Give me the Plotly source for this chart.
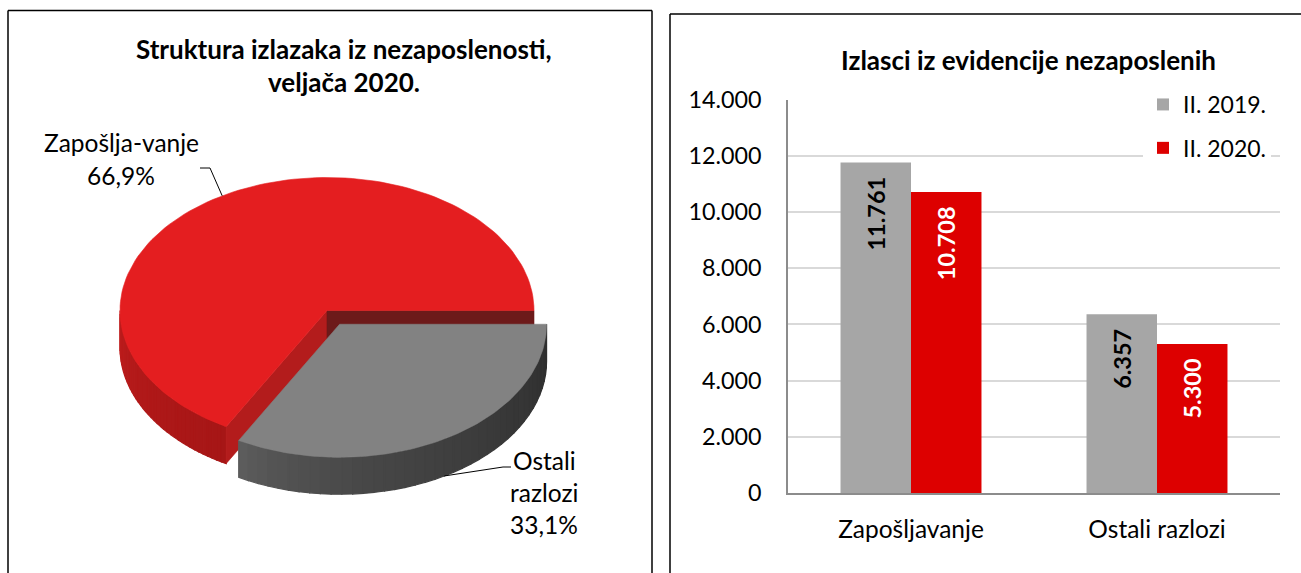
import numpy as np
import plotly.graph_objects as go

# ---------------- data ----------------
pie_labels = ["Zapošlja-vanje", "Ostali razlozi"]
pie_shares = [66.9, 33.1]
pie_title = ["Struktura izlazaka iz nezaposlenosti,", "veljača 2020."]

bar_categories = ["Zapošljavanje", "Ostali razlozi"]
bar_series = ["II. 2019.", "II. 2020."]
values_2019 = [11761, 6357]
values_2020 = [10708, 5300]
bar_title = "Izlasci iz evidencije nezaposlenih"
y_ticks = [0, 2000, 4000, 6000, 8000, 10000, 12000, 14000]

# ---------------- style ----------------
W, H = 1301, 573
FONT = "Lato"
BAR_COLORS = ["#A6A6A6", "#DD0000"]
BAR_TEXT_COLORS = ["#000000", "#FFFFFF"]

# 3D pie geometry (pixel space of the left panel)
CX, CY, RX, RY, DEPTH = 327.0, 310.5, 207.0, 133.0, 37.0
EXPLODE = [0.0, 0.12]
TOP_COLORS = ["#E41E20", "#828282"]
CUT_COLORS = ["#B31C1C", "#6D1A1A"]

fig = go.Figure()

# ---------------- bar chart ----------------
for name, vals, col, tcol in zip(bar_series, [values_2019, values_2020], BAR_COLORS, BAR_TEXT_COLORS):
    fig.add_trace(go.Bar(
        x=bar_categories, y=vals, name=name, legendgroup=name,
        marker=dict(color=col, line=dict(width=0)),
        texttemplate="%{y:,d}\u00a0\u00a0", textposition="inside",
        insidetextanchor="end", textangle=-90,
        textfont=dict(family=FONT, size=23.5, color=tcol, weight="bold"),
        hoverinfo="skip", xaxis="x", yaxis="y",
    ))


# ---------------- 3D pie built from the shares ----------------
def pt(t_deg, ox=0.0, oy=0.0, dz=0.0):
    t = np.radians(t_deg)
    return CX + ox + RX * np.cos(t), CY + oy - RY * np.sin(t) + dz


def poly(xs, ys, color, lw=0.6):
    fig.add_trace(go.Scatter(
        x=list(xs) + [xs[0]], y=list(ys) + [ys[0]], mode="lines", fill="toself",
        fillcolor=color, line=dict(color=color, width=lw),
        hoverinfo="skip", showlegend=False, xaxis="x2", yaxis="y2",
    ))


def lerp_col(c0, c1, s):
    return "rgb(%d,%d,%d)" % tuple(round(a + (b - a) * s) for a, b in zip(c0, c1))


total = sum(pie_shares)
bounds = []
acc = 0.0
for v in pie_shares:
    a0 = acc / total * 360.0
    acc += v
    a1 = acc / total * 360.0
    bounds.append((a0, a1))

side_cols = [((194, 30, 30), (166, 22, 22)), ((96, 96, 96), (46, 46, 46))]
offsets = []
for i, (a0, a1) in enumerate(bounds):
    mid = np.radians((a0 + a1) / 2)
    ox = EXPLODE[i] * RX * np.cos(mid)
    oy = -EXPLODE[i] * RY * np.sin(mid)
    offsets.append((ox, oy))

for i, (a0, a1) in enumerate(bounds):
    ox, oy = offsets[i]
    # visible outer side wall (front half, angles 180..360)
    s0, s1 = max(a0, 180.0), min(a1, 360.0)
    if s1 > s0:
        n = 40
        edges = np.linspace(s0, s1, n + 1)
        for k in range(n):
            ts = np.linspace(edges[k], edges[k + 1], 5)
            top = [pt(t, ox, oy) for t in ts]
            bot = [pt(t, ox, oy, DEPTH) for t in ts[::-1]]
            xs = [p[0] for p in top + bot]
            ys = [p[1] for p in top + bot]
            s = (k + 0.5) / n
            poly(xs, ys, lerp_col(side_cols[i][0], side_cols[i][1], s ** 0.6), lw=1.2)
    # radial cut faces that face the viewer
    if i == 0:
        for ang, col in [(a1, CUT_COLORS[0]), (a0, CUT_COLORS[1])]:
            c = (CX + ox, CY + oy)
            r = pt(ang, ox, oy)
            xs = [c[0], r[0], r[0], c[0]]
            ys = [c[1], r[1], r[1] + DEPTH, c[1] + DEPTH]
            poly(xs, ys, col)
    # top face
    ts = np.linspace(a0, a1, 120)
    arc = [pt(t, ox, oy) for t in ts]
    xs = [CX + ox] + [p[0] for p in arc]
    ys = [CY + oy] + [p[1] for p in arc]
    poly(xs, ys, TOP_COLORS[i])

# ---------------- pie labels and leader lines ----------------
def pct(v):
    return ("%.1f" % v).replace(".", ",") + "%"

label_lines = [[pie_labels[0], pct(pie_shares[0])],
               pie_labels[1].split(" ") + [pct(pie_shares[1])]]
label_pos = [(121, [142.5, 175]), (544, [460, 492, 524.5])]
annotations = []
for lines, (lx, lys) in zip(label_lines, label_pos):
    for txt, ly in zip(lines, lys):
        annotations.append(dict(x=lx, y=ly, xref="x2", yref="y2", text=txt, showarrow=False,
                                xanchor="center", yanchor="middle",
                                font=dict(family=FONT, size=24.5, color="#000000")))

shapes = []
mid0 = (bounds[0][0] + bounds[0][1]) / 2
mid1 = (bounds[1][0] + bounds[1][1]) / 2
t0 = pt(mid0, *offsets[0])
t1 = pt(mid1, offsets[1][0], offsets[1][1], DEPTH)
leaders = [[(200, 168), (210, 168), t0], [(511, 467), (503, 467), t1]]
for seg in leaders:
    for p, q in zip(seg[:-1], seg[1:]):
        shapes.append(dict(type="line", xref="x2", yref="y2", x0=p[0], y0=p[1], x1=q[0], y1=q[1],
                           line=dict(color="#000000", width=1)))

# ---------------- titles ----------------
for txt, ty in zip(pie_title, [49, 82]):
    annotations.append(dict(x=344 / W, y=1 - ty / H, xref="paper", yref="paper", text="<b>%s</b>" % txt,
                            showarrow=False, xanchor="center", yanchor="middle",
                            font=dict(family=FONT, size=26, color="#000000")))
annotations.append(dict(x=1028 / W, y=1 - 60 / H, xref="paper", yref="paper", text="<b>%s</b>" % bar_title,
                        showarrow=False, xanchor="center", yanchor="middle",
                        font=dict(family=FONT, size=26, color="#000000")))

# ---------------- panel borders (open at the figure edge) ----------------
def pline(x0, y0, x1, y1):
    shapes.append(dict(type="line", xref="paper", yref="paper",
                       x0=x0 / W, y0=1 - y0 / H, x1=x1 / W, y1=1 - y1 / H,
                       line=dict(color="#000000", width=1.5), layer="below"))

pline(8, 10.5, 652, 10.5)
pline(8, 10.5, 8, H)
pline(652, 10.5, 652, H)
pline(670, 14, W, 14)
pline(670, 14, 670, H)

fig.update_layout(
    width=W, height=H, autosize=False,
    margin=dict(l=0, r=0, t=0, b=0, pad=0, autoexpand=False),
    paper_bgcolor="#FFFFFF", plot_bgcolor="rgba(0,0,0,0)",
    separators=",.",
    font=dict(family=FONT, size=24, color="#000000"),
    barmode="group", bargap=0.427, bargroupgap=0,
    showlegend=True,
    legend=dict(x=1143 / W, y=1 - 83 / H, xanchor="left", yanchor="top",
                bgcolor="#FFFFFF", borderwidth=0, traceorder="grouped", tracegroupgap=10.5,
                font=dict(family=FONT, size=23, color="#000000")),
    xaxis=dict(domain=[788 / W, 1280 / W], anchor="y", showline=True, linecolor="#8C8C8C", linewidth=1.5,
               ticks="", showgrid=False, tickfont=dict(family=FONT, size=24.5), ticklabelstandoff=14,
               fixedrange=True, automargin=False),
    yaxis=dict(domain=[(H - 493) / H, (H - 99.5) / H], anchor="x", range=[0, 14000],
               tickvals=y_ticks, tickformat=",d", showgrid=True, gridcolor="#D9D9D9", gridwidth=1.5,
               showline=True, linecolor="#8C8C8C", linewidth=1.5, zeroline=False, ticks="",
               tickfont=dict(family=FONT, size=23.3), ticklabelstandoff=20, fixedrange=True,
               automargin=False),
    xaxis2=dict(domain=[0, 0.5], range=[0, W * 0.5], anchor="y2", visible=False, fixedrange=True),
    yaxis2=dict(domain=[0, 1], range=[H, 0], anchor="x2", visible=False, fixedrange=True),
    annotations=annotations,
    shapes=shapes,
)

fig.write_html("out.html", config={"displayModeBar": False},
               post_script="document.body.style.margin='0';document.body.style.padding='0';")
